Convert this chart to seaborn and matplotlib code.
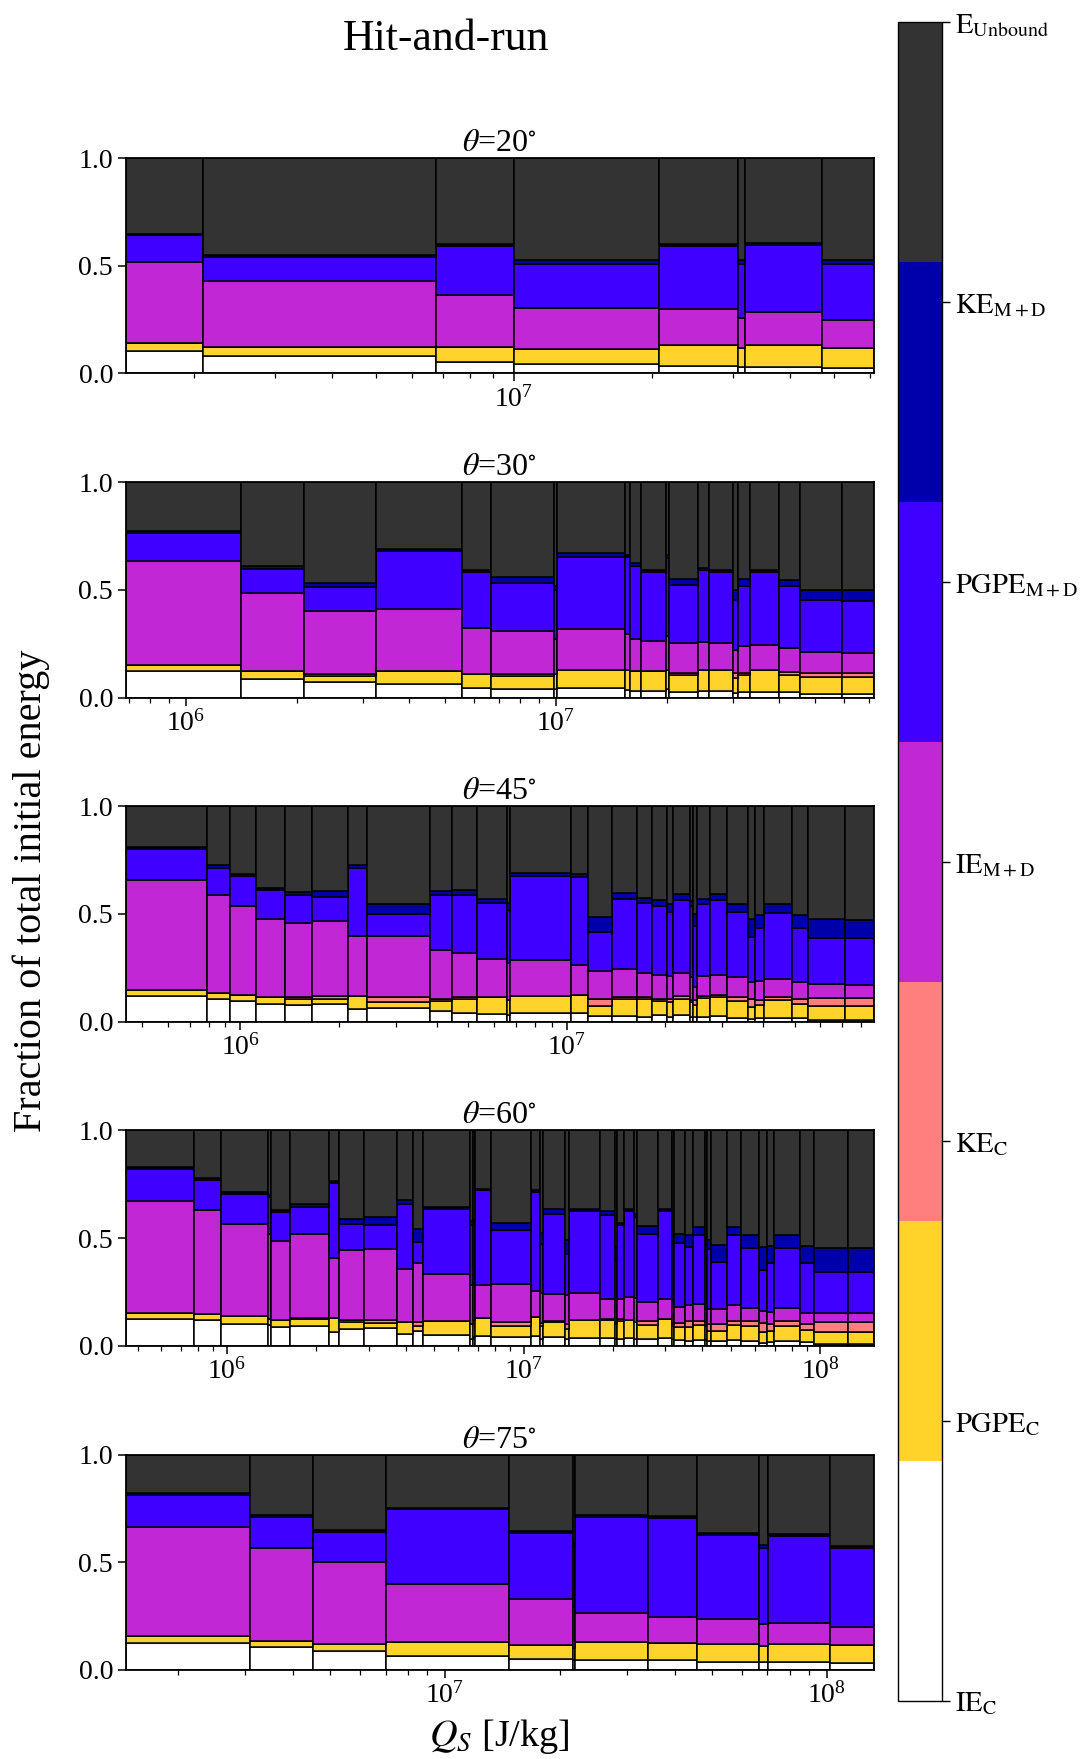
import numpy as np
import matplotlib
matplotlib.use("Agg")
import matplotlib.pyplot as plt
import seaborn as sns
from matplotlib.colors import ListedColormap, Normalize
from matplotlib.cm import ScalarMappable

# ---------------- data ----------------
# Components, bottom to top
components = ["IE_C", "PGPE_C", "KE_C", "IE_M+D", "PGPE_M+D", "KE_M+D", "E_Unbound"]
comp_labels = [r"$\mathrm{IE_C}$", r"$\mathrm{PGPE_C}$", r"$\mathrm{KE_C}$",
               r"$\mathrm{IE_{M+D}}$", r"$\mathrm{PGPE_{M+D}}$", r"$\mathrm{KE_{M+D}}$",
               r"$\mathrm{E_{Unbound}}$"]
comp_colors = ["#FFFFFF", "#FFD32A", "#FF7F7F", "#C227D6", "#4000FF", "#0000AA", "#333333"]

angles = [20, 30, 45, 60, 75]

# Bin edges in log10(Q_S [J/kg]); cumulative fraction tops for each component
log_q_edges_20 = [6.152, 6.322, 6.830, 7.000, 7.317, 7.488, 7.505, 7.672, 7.785]
ie_c_20 = [0.104, 0.083, 0.053, 0.042, 0.034, 0.028, 0.031, 0.023]
pgpe_c_20 = [0.139, 0.124, 0.124, 0.114, 0.134, 0.117, 0.134, 0.119]
ke_c_20 = [0.139, 0.124, 0.124, 0.114, 0.134, 0.117, 0.134, 0.119]
ie_md_20 = [0.519, 0.428, 0.363, 0.304, 0.300, 0.255, 0.286, 0.247]
pgpe_md_20 = [0.641, 0.541, 0.590, 0.507, 0.590, 0.507, 0.595, 0.507]
ke_md_20 = [0.649, 0.549, 0.600, 0.526, 0.600, 0.526, 0.606, 0.526]

log_q_edges_30 = [5.837, 6.148, 6.319, 6.514, 6.745, 6.823, 6.994, 7.002, 7.185, 7.199, 7.230,
                  7.298, 7.306, 7.384, 7.413, 7.477, 7.492, 7.524, 7.602, 7.660, 7.772, 7.858]
ie_c_30 = [0.122, 0.088, 0.070, 0.062, 0.042, 0.040, 0.040, 0.043, 0.034, 0.031, 0.031,
           0.040, 0.026, 0.031, 0.028, 0.022, 0.025, 0.025, 0.025, 0.016, 0.016]
pgpe_c_30 = [0.149, 0.124, 0.102, 0.124, 0.111, 0.099, 0.110, 0.130, 0.127, 0.123, 0.123,
             0.130, 0.104, 0.127, 0.127, 0.092, 0.104, 0.127, 0.106, 0.095, 0.093]
ke_c_30 = [0.149, 0.124, 0.107, 0.124, 0.111, 0.111, 0.110, 0.130, 0.127, 0.123, 0.123,
           0.130, 0.116, 0.127, 0.127, 0.112, 0.116, 0.127, 0.120, 0.113, 0.113]
ie_md_30 = [0.636, 0.485, 0.401, 0.413, 0.322, 0.311, 0.270, 0.319, 0.295, 0.273, 0.262,
            0.286, 0.255, 0.256, 0.253, 0.220, 0.239, 0.244, 0.228, 0.211, 0.205]
pgpe_md_30 = [0.765, 0.599, 0.511, 0.681, 0.585, 0.533, 0.500, 0.653, 0.652, 0.613, 0.581,
              0.648, 0.522, 0.593, 0.582, 0.453, 0.519, 0.582, 0.519, 0.453, 0.450]
ke_md_30 = [0.774, 0.611, 0.533, 0.692, 0.594, 0.559, 0.520, 0.669, 0.663, 0.624, 0.593,
            0.660, 0.551, 0.602, 0.593, 0.500, 0.550, 0.593, 0.547, 0.500, 0.500]

log_q_edges_45 = [5.648, 5.898, 5.969, 6.047, 6.138, 6.219, 6.331, 6.387, 6.581, 6.650, 6.725,
                  6.818, 6.825, 7.014, 7.067, 7.140, 7.216, 7.263, 7.307, 7.325, 7.378, 7.388,
                  7.400, 7.440, 7.492, 7.557, 7.577, 7.606, 7.690, 7.741, 7.854, 7.941]
ie_c_45 = [0.121, 0.107, 0.095, 0.081, 0.076, 0.081, 0.057, 0.065, 0.047, 0.039, 0.036,
           0.030, 0.042, 0.039, 0.025, 0.028, 0.023, 0.031, 0.023, 0.031, 0.023, 0.023,
           0.022, 0.028, 0.019, 0.012, 0.019, 0.019, 0.019, 0.009, 0.009]
pgpe_c_45 = [0.149, 0.133, 0.124, 0.115, 0.107, 0.107, 0.119, 0.090, 0.096, 0.104, 0.112,
             0.100, 0.121, 0.124, 0.071, 0.105, 0.105, 0.096, 0.093, 0.107, 0.090, 0.078,
             0.109, 0.112, 0.096, 0.070, 0.078, 0.099, 0.081, 0.073, 0.073]
ke_c_45 = [0.149, 0.133, 0.124, 0.115, 0.113, 0.119, 0.119, 0.112, 0.105, 0.112, 0.112,
           0.100, 0.121, 0.124, 0.104, 0.116, 0.115, 0.107, 0.105, 0.118, 0.100, 0.101,
           0.118, 0.124, 0.112, 0.104, 0.102, 0.115, 0.105, 0.109, 0.109]
ie_md_45 = [0.659, 0.589, 0.538, 0.478, 0.457, 0.467, 0.398, 0.398, 0.333, 0.319, 0.291,
            0.270, 0.284, 0.264, 0.233, 0.243, 0.225, 0.217, 0.214, 0.225, 0.208, 0.163,
            0.212, 0.217, 0.205, 0.186, 0.189, 0.198, 0.183, 0.174, 0.169]
pgpe_md_45 = [0.802, 0.713, 0.674, 0.609, 0.586, 0.578, 0.713, 0.501, 0.586, 0.589, 0.553,
              0.520, 0.678, 0.673, 0.414, 0.571, 0.550, 0.538, 0.509, 0.566, 0.535, 0.442,
              0.546, 0.566, 0.507, 0.392, 0.437, 0.504, 0.437, 0.388, 0.388]
ke_md_45 = [0.811, 0.726, 0.685, 0.620, 0.600, 0.608, 0.726, 0.547, 0.605, 0.609, 0.571,
            0.550, 0.690, 0.685, 0.484, 0.597, 0.574, 0.564, 0.547, 0.594, 0.561, 0.501,
            0.569, 0.594, 0.547, 0.478, 0.496, 0.546, 0.496, 0.476, 0.473]

log_q_edges_60 = [5.658, 5.887, 5.980, 6.138, 6.147, 6.213, 6.342, 6.376, 6.460, 6.573, 6.627,
                  6.660, 6.820, 6.829, 6.837, 6.891, 7.026, 7.056, 7.065, 7.138, 7.152, 7.256,
                  7.307, 7.315, 7.338, 7.371, 7.380, 7.453, 7.498, 7.506, 7.543, 7.569, 7.610,
                  7.618, 7.630, 7.684, 7.731, 7.794, 7.819, 7.843, 7.931, 7.979, 8.092, 8.179]
ie_c_60 = [0.123, 0.119, 0.102, 0.095, 0.088, 0.093, 0.065, 0.077, 0.080, 0.054, 0.066,
           0.049, 0.030, 0.040, 0.043, 0.039, 0.046, 0.031, 0.039, 0.031, 0.035, 0.035,
           0.030, 0.031, 0.034, 0.030, 0.031, 0.035, 0.030, 0.028, 0.023, 0.028, 0.025,
           0.020, 0.023, 0.028, 0.023, 0.012, 0.019, 0.023, 0.019, 0.009, 0.009]
pgpe_c_60 = [0.154, 0.147, 0.136, 0.125, 0.119, 0.123, 0.127, 0.108, 0.105, 0.111, 0.090,
             0.116, 0.100, 0.120, 0.127, 0.093, 0.131, 0.090, 0.108, 0.077, 0.119, 0.120,
             0.100, 0.116, 0.120, 0.110, 0.096, 0.123, 0.090, 0.085, 0.088, 0.097, 0.090,
             0.070, 0.069, 0.097, 0.090, 0.062, 0.069, 0.093, 0.073, 0.062, 0.062]
ke_c_60 = [0.154, 0.147, 0.136, 0.125, 0.119, 0.128, 0.127, 0.119, 0.119, 0.111, 0.108,
           0.116, 0.100, 0.120, 0.127, 0.108, 0.131, 0.105, 0.116, 0.100, 0.119, 0.124,
           0.110, 0.123, 0.120, 0.110, 0.113, 0.123, 0.100, 0.105, 0.113, 0.116, 0.110,
           0.100, 0.103, 0.116, 0.116, 0.105, 0.103, 0.116, 0.103, 0.111, 0.111]
ie_md_60 = [0.671, 0.630, 0.563, 0.520, 0.486, 0.517, 0.407, 0.443, 0.451, 0.355, 0.386,
            0.332, 0.280, 0.285, 0.281, 0.285, 0.255, 0.247, 0.239, 0.235, 0.244, 0.219,
            0.210, 0.216, 0.227, 0.220, 0.205, 0.219, 0.180, 0.181, 0.188, 0.196, 0.170,
            0.170, 0.170, 0.188, 0.177, 0.159, 0.157, 0.173, 0.154, 0.154, 0.154]
pgpe_md_60 = [0.821, 0.769, 0.704, 0.690, 0.620, 0.645, 0.756, 0.563, 0.559, 0.660, 0.481,
              0.636, 0.560, 0.580, 0.721, 0.537, 0.713, 0.474, 0.610, 0.424, 0.625, 0.606,
              0.400, 0.560, 0.625, 0.600, 0.517, 0.625, 0.470, 0.478, 0.458, 0.512, 0.470,
              0.450, 0.390, 0.512, 0.455, 0.350, 0.386, 0.455, 0.386, 0.344, 0.344]
ke_md_60 = [0.829, 0.778, 0.713, 0.700, 0.630, 0.660, 0.764, 0.590, 0.597, 0.676, 0.540,
            0.645, 0.580, 0.585, 0.728, 0.570, 0.721, 0.525, 0.633, 0.491, 0.636, 0.625,
            0.460, 0.571, 0.633, 0.610, 0.556, 0.636, 0.510, 0.517, 0.514, 0.552, 0.500,
            0.490, 0.466, 0.552, 0.514, 0.460, 0.463, 0.512, 0.463, 0.455, 0.455]

log_q_edges_75 = [6.164, 6.490, 6.655, 6.847, 7.169, 7.335, 7.342, 7.533, 7.661, 7.824, 7.846,
                  8.008, 8.123]
ie_c_75 = [0.125, 0.104, 0.088, 0.065, 0.049, 0.045, 0.046, 0.045, 0.037, 0.034, 0.037, 0.031]
pgpe_c_75 = [0.155, 0.133, 0.119, 0.128, 0.116, 0.100, 0.127, 0.125, 0.119, 0.111, 0.122, 0.116]
ke_c_75 = [0.155, 0.133, 0.119, 0.128, 0.116, 0.100, 0.127, 0.125, 0.119, 0.111, 0.122, 0.116]
ie_md_75 = [0.665, 0.567, 0.501, 0.397, 0.331, 0.290, 0.266, 0.247, 0.238, 0.215, 0.219, 0.199]
pgpe_md_75 = [0.811, 0.709, 0.640, 0.745, 0.637, 0.575, 0.709, 0.706, 0.626, 0.567, 0.623, 0.567]
ke_md_75 = [0.819, 0.717, 0.648, 0.753, 0.645, 0.590, 0.717, 0.714, 0.635, 0.578, 0.632, 0.576]

panels = [
    (log_q_edges_20, [ie_c_20, pgpe_c_20, ke_c_20, ie_md_20, pgpe_md_20, ke_md_20]),
    (log_q_edges_30, [ie_c_30, pgpe_c_30, ke_c_30, ie_md_30, pgpe_md_30, ke_md_30]),
    (log_q_edges_45, [ie_c_45, pgpe_c_45, ke_c_45, ie_md_45, pgpe_md_45, ke_md_45]),
    (log_q_edges_60, [ie_c_60, pgpe_c_60, ke_c_60, ie_md_60, pgpe_md_60, ke_md_60]),
    (log_q_edges_75, [ie_c_75, pgpe_c_75, ke_c_75, ie_md_75, pgpe_md_75, ke_md_75]),
]

# ---------------- style ----------------
sns.set_theme(style="ticks")
plt.rcParams["font.family"] = ["Liberation Serif", "DejaVu Serif"]
plt.rcParams["mathtext.fontset"] = "stix"
plt.rcParams["axes.edgecolor"] = "black"
plt.rcParams["xtick.color"] = "black"
plt.rcParams["ytick.color"] = "black"
plt.rcParams["text.color"] = "black"
plt.rcParams["axes.labelcolor"] = "black"

W, H = 1081, 1759
fig = plt.figure(figsize=(W / 100, H / 100), dpi=100)

ax_left = 125.6 / W
ax_width = 748.0 / W
ax_height = 215.3 / H
ax_tops_px = [158.1, 482.2, 806.3, 1130.4, 1454.5]

for (log_edges, tops), angle, top_px in zip(panels, angles, ax_tops_px):
    bottom_frac = 1 - (top_px + 215.3) / H
    ax = fig.add_axes([ax_left, bottom_frac, ax_width, ax_height])
    ax.set_xscale("log")
    edges = 10 ** np.asarray(log_edges)
    left = edges[:-1]
    width = np.diff(edges)
    n = len(left)
    levels = [np.zeros(n)] + [np.asarray(t) for t in tops] + [np.ones(n)]
    for k in range(7):
        ax.bar(left, levels[k + 1] - levels[k], width=width, bottom=levels[k],
               align="edge", color=comp_colors[k], edgecolor="black", linewidth=1.1)
    ax.set_xlim(edges[0], edges[-1])
    ax.set_ylim(0, 1)
    ax.set_yticks([0, 0.5, 1.0])
    ax.set_yticklabels(["0.0", "0.5", "1.0"])
    ax.tick_params(axis="both", which="major", labelsize=20, length=6, width=1.1,
                   direction="out", pad=3)
    ax.tick_params(axis="x", which="minor", length=3.5, width=0.9, direction="out")
    for sp in ax.spines.values():
        sp.set_linewidth(1.3)
        sp.set_color("black")
    ax.set_title(r"$\theta$=" + str(angle) + r"$^{\circ}$", fontsize=23, pad=2)

# colorbar
cax = fig.add_axes([898 / W, 1 - 1701 / H, 44 / W, (1701 - 22.4) / H])
sm = ScalarMappable(norm=Normalize(0, 6), cmap=ListedColormap(comp_colors))
cb = fig.colorbar(sm, cax=cax, ticks=range(7))
cb.set_ticklabels(comp_labels)
cb.ax.tick_params(labelsize=20.5, length=6, width=1.0, color="black")
cb.outline.set_edgecolor("black")
cb.outline.set_linewidth(1.0)

fig.text(446 / W, 1 - 39 / H, "Hit-and-run", fontsize=31.5, ha="center", va="center")
fig.text(31 / W, 1 - 891 / H, "Fraction of total initial energy", fontsize=29,
         rotation=90, ha="center", va="center")
fig.text(499 / W, 1 - 1736 / H, r"$Q_S$ [J/kg]", fontsize=27.5, ha="center", va="center")

fig.savefig("out.png", dpi=100, facecolor="white")
